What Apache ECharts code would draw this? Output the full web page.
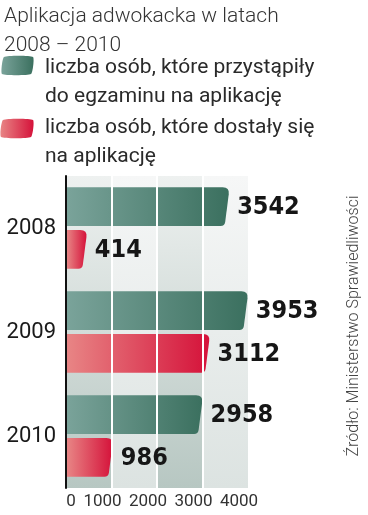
<!DOCTYPE html>
<html><head><meta charset="utf-8">
<script src="https://cdn.jsdelivr.net/npm/echarts@6/dist/echarts.min.js"></script>
<style>html,body{margin:0;padding:0;background:#fff}#c{width:368px;height:515px}</style>
</head><body><div id="c"></div>
<script>
const titleLines = ['Aplikacja adwokacka w latach', '2008 – 2010'];
const years = ['2008', '2009', '2010'];
const seriesNames = ['liczba osób, które przystąpiły\ndo egzaminu na aplikację', 'liczba osób, które dostały się\nna aplikację'];
const candidates = [3542, 3953, 2958];
const admitted = [414, 3112, 986];
const xTicks = [0, 1000, 2000, 3000, 4000];
const sourceText = 'Źródło: Ministerstwo Sprawiedliwości';

const greenGrad = ['#7aa39a', '#3b705f'];
const redGrad = ['#e88585', '#d5123a'];

function grad(c) {
  return new echarts.graphic.LinearGradient(0, 0, 1, 0, [{offset: 0, color: c[0]}, {offset: 1, color: c[1]}]);
}

function geom(first, api) {
  const v = api.value(0), c = api.value(1);
  const p0 = api.coord([0, c]);
  const p1 = api.coord([v, c]);
  const band = api.size([0, 1])[1];
  const h = band * 0.372, gap = band * 0.04;
  const top = first ? p0[1] - gap / 2 - h : p0[1] + gap / 2;
  return {v: v, x0: p0[0] + 1, xv: p1[0], top: top, bot: top + h, h: h};
}

function makeBar(first, colors) {
  return function (params, api) {
    const g = geom(first, api);
    const s = 5;
    const xtr = g.xv + s / 2, xbr = g.xv - s / 2;
    const r1 = 7, r2 = 4, top = g.top, bot = g.bot, h = g.h, x0 = g.x0;
    const d = 'M' + x0 + ',' + top +
      ' L' + (xtr - r1) + ',' + top +
      ' Q' + xtr + ',' + top + ' ' + (xtr - s * r1 / h) + ',' + (top + r1) +
      ' L' + (xbr + s * r2 / h) + ',' + (bot - r2) +
      ' Q' + xbr + ',' + bot + ' ' + (xbr - r2) + ',' + bot +
      ' L' + x0 + ',' + bot + ' Z';
    return {type: 'path', shape: {pathData: d}, style: {fill: grad(colors)}};
  };
}

function makeLabel(first) {
  return function (params, api) {
    const g = geom(first, api);
    return {
      type: 'text', x: g.xv + 10, y: (g.top + g.bot) / 2 + 1,
      style: {text: String(g.v), fontFamily: '"DejaVu Sans Condensed", Roboto, sans-serif', fontWeight: 'bold',
              fontSize: 25, fill: '#161616', verticalAlign: 'middle', align: 'left'}
    };
  };
}

const chart = echarts.init(document.getElementById('c'), null, {renderer: 'canvas'});
const colGrad = (t, b) => new echarts.graphic.LinearGradient(0, 0, 0, 1, [{offset: 0, color: t}, {offset: 1, color: b}]);

const seriesList = [];
[[candidates, greenGrad, true, seriesNames[0]], [admitted, redGrad, false, seriesNames[1]]].forEach(function (it) {
  const data = it[0].map((v, i) => [v, i]);
  seriesList.push({name: it[3], type: 'custom', xAxisIndex: 0, z: 2, renderItem: makeBar(it[2], it[1]), encode: {x: 0, y: 1}, data: data});
  seriesList.push({name: it[3], type: 'custom', xAxisIndex: 0, z: 10, silent: true, renderItem: makeLabel(it[2]), encode: {x: 0, y: 1}, data: data});
});

chart.setOption({
  animation: false,
  title: {
    text: titleLines.join('\n'), left: -1, top: -3,
    textStyle: {fontFamily: 'Roboto', fontWeight: 300, fontSize: 21, lineHeight: 29, color: '#333'}
  },
  grid: {left: 66, right: 120, top: 176, bottom: 27, show: false},
  xAxis: [{
    type: 'value', min: 0, max: 4000, interval: 1000,
    axisLine: {show: false}, axisTick: {show: false},
    splitLine: {show: false},
    splitArea: {show: true, areaStyle: {color: [colGrad('#eef1f0', '#b7c7c2'), colGrad('#f6f7f7', '#dce3e1')]}},
    axisLabel: {
      margin: 5, fontFamily: 'Roboto', fontSize: 17, color: '#333',
      formatter: function (v) { return v === 0 ? '{a|0}' : '{b|' + v + '}'; },
      rich: {a: {fontFamily: 'Roboto', fontSize: 17, color: '#333', padding: [0, 0, 0, 10]},
             b: {fontFamily: 'Roboto', fontSize: 17, color: '#333', padding: [0, 18, 0, 0]}}
    }
  }, {
    type: 'value', min: 0, max: 4000, interval: 1000, z: 5, position: 'bottom',
    axisLine: {show: false}, axisTick: {show: false}, axisLabel: {show: false},
    splitLine: {show: true, showMinLine: false, showMaxLine: false, lineStyle: {color: '#ffffff', width: 2}}
  }],
  yAxis: {
    type: 'category', data: years, inverse: true, z: 6,
    axisLine: {show: true, lineStyle: {color: '#111', width: 2}},
    axisTick: {show: false},
    axisLabel: {margin: 10, fontFamily: 'Roboto', fontSize: 22, color: '#1a1a1a'}
  },
  series: seriesList,
  graphic: [
    {type: 'polygon', shape: {points: [[4, 57], [33, 57], [31, 74], [2, 74]], smooth: 0.15}, style: {fill: grad(greenGrad)}},
    {type: 'text', x: 45, y: 53, style: {text: seriesNames[0], fontFamily: 'Roboto', fontSize: 21, lineHeight: 29, fill: '#2a2a2a'}},
    {type: 'polygon', shape: {points: [[3, 120], [33, 120], [31, 137], [1, 137]], smooth: 0.15}, style: {fill: grad(redGrad)}},
    {type: 'text', x: 45, y: 113, style: {text: seriesNames[1], fontFamily: 'Roboto', fontSize: 21, lineHeight: 29, fill: '#2a2a2a'}},
    {type: 'text', x: 354, y: 326, rotation: Math.PI / 2,
     style: {text: sourceText, fontFamily: 'Roboto', fontWeight: 300, fontSize: 16, fill: '#444', align: 'center', verticalAlign: 'middle'}}
  ]
});
</script>
</body></html>
